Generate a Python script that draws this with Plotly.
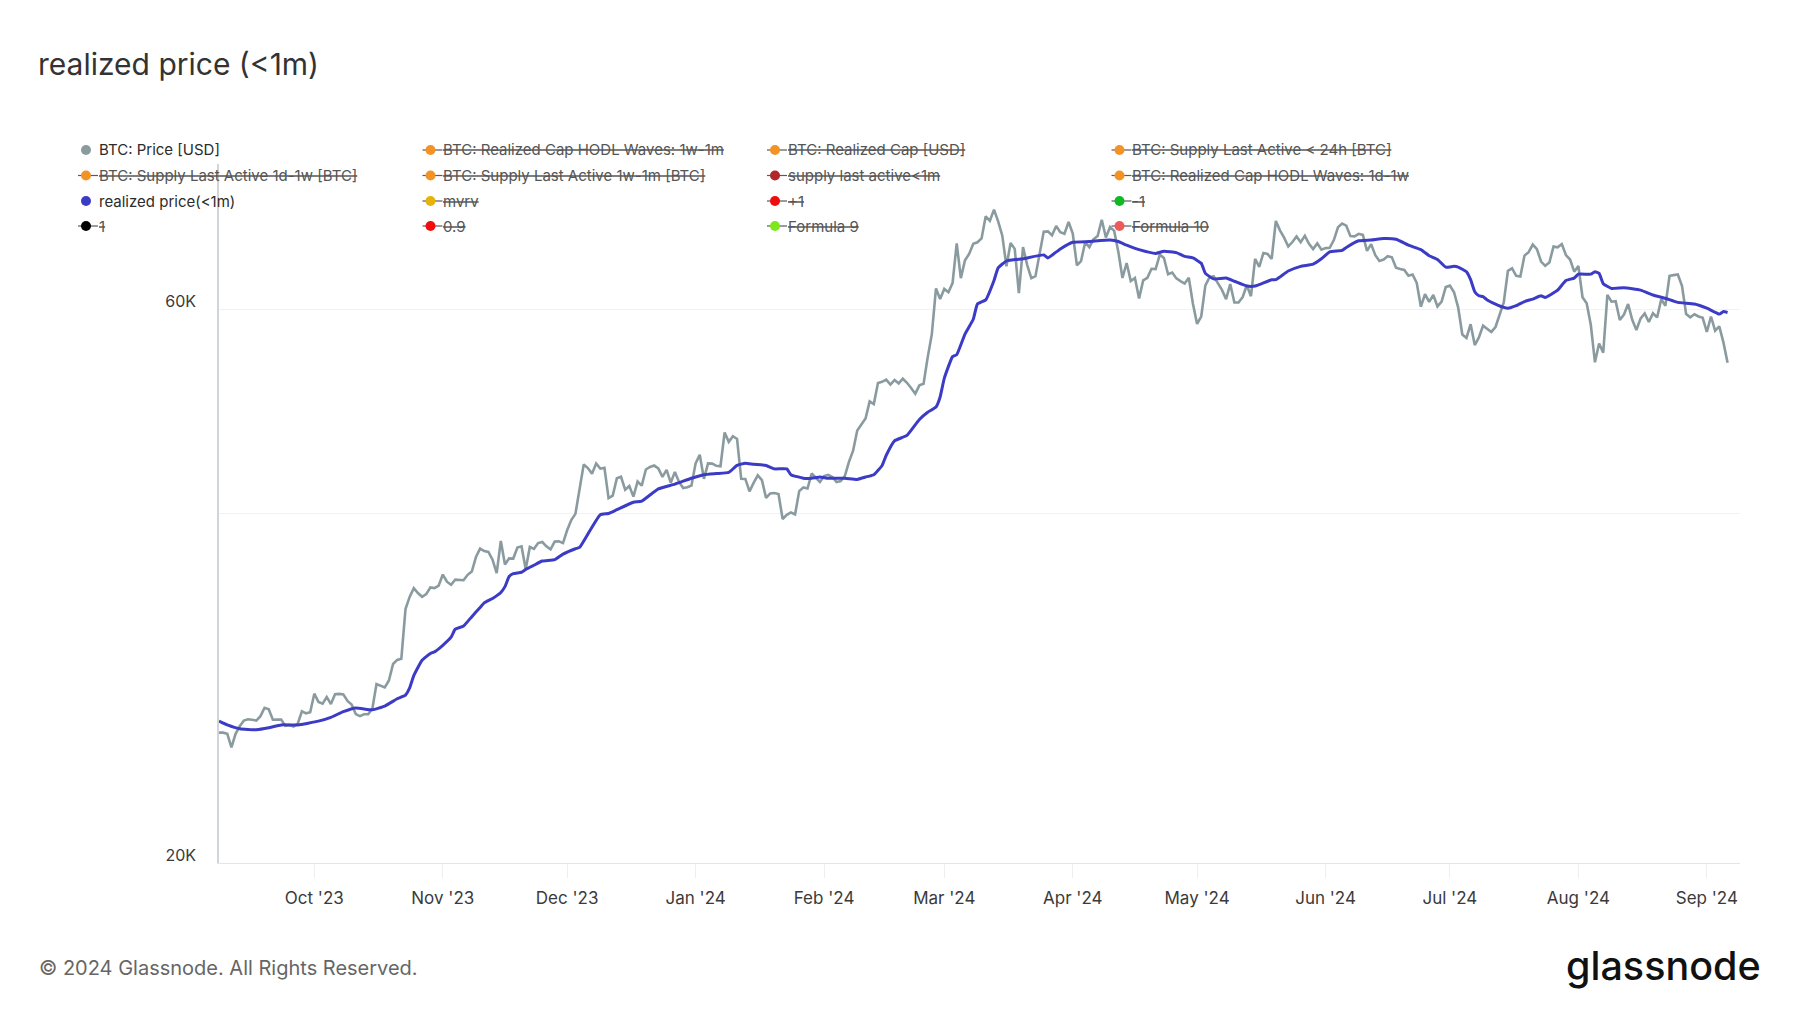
import math
import pandas as pd
import plotly.graph_objects as go

# ---------------- data ----------------
PRICE_START = "2023-09-08"
price_usd = [
    # Sep 2023 (8-30)
    25900, 25900, 25840, 25160, 25840, 26230, 26530, 26600, 26570, 26530, 26760, 27210,
    27130, 26570, 26580, 26580, 26250, 26300, 26220, 26370, 27020, 26910, 26970,
    # Oct 2023
    27980, 27530, 27430, 27800, 27410, 27950, 27970, 27940, 27580, 27390, 26870, 26760,
    26860, 26870, 27160, 28520, 28420, 28330, 28720, 29680, 29920, 29990, 33090, 33900,
    34500, 34160, 33910, 34090, 34540, 34500, 34670,
    # Nov 2023
    35440, 34940, 34730, 35080, 35050, 35040, 35420, 35650, 36690, 37310, 37130, 37060,
    36500, 35540, 37880, 36150, 36590, 36580, 37390, 37480, 35810, 37430, 37290, 37720,
    37800, 37480, 37250, 37830, 37850, 37720,
    # Dec 2023
    38690, 39480, 39970, 41980, 44080, 43770, 43290, 44170, 43720, 43790, 41240, 41450,
    42890, 43020, 41930, 42240, 41360, 42620, 42270, 43650, 43870, 43990, 43740, 43020,
    43610, 42520, 43440, 42580, 42070, 42140, 42280,
    # Jan 2024
    44180, 44940, 42850, 44180, 44160, 43970, 43930, 46970, 46110, 46630, 46370, 42850,
    42840, 41800, 42510, 43150, 42740, 41260, 41620, 41660, 41580, 39570, 39890, 40080,
    39930, 41820, 42120, 42030, 43300, 42940, 42580,
    # Feb 2024
    43080, 43190, 43000, 42580, 42660, 43080, 44320, 45300, 47150, 47770, 48290, 49960,
    49700, 51810, 51940, 52160, 51660, 52120, 51780, 52260, 51840, 51300, 50730, 51570,
    51730, 54520, 57090, 62500, 61200,
    # Mar 2024
    62440, 62030, 63170, 68330, 63800, 66110, 66930, 68300, 68500, 69020, 72120, 71480,
    73080, 71400, 69400, 65300, 68390, 67610, 61930, 67840, 65500, 63800, 64050, 67210,
    69960, 69990, 69450, 70740, 69890, 69660, 71330,
    # Apr 2024
    69700, 65450, 65980, 68510, 67840, 68900, 69360, 71630, 69140, 70590, 70060, 67200,
    63820, 65740, 63420, 63810, 61280, 63510, 63840, 64990, 64940, 66840, 66410, 64280,
    64500, 63760, 63420, 63110, 63840, 60640,
    # May 2024
    58250, 59120, 62890, 63890, 64030, 63160, 62330, 61190, 63050, 60790, 60790, 61450,
    62900, 61550, 66270, 65230, 67050, 66940, 66280, 71450, 70140, 69120, 67930, 68530,
    69290, 68510, 69390, 68300, 67590, 68350, 67490,
    # Jun 2024
    67710, 67750, 68800, 70560, 71080, 70790, 69340, 69300, 69650, 69510, 67330, 68240,
    66760, 66010, 66190, 66640, 66490, 65140, 64960, 64830, 64100, 64250, 63180, 60280,
    61800, 60860, 61700, 60320, 60890, 62670,
    # Jul 2024
    62850, 62030, 60170, 57040, 56660, 58230, 55860, 56710, 58050, 57720, 57340, 57900,
    59230, 60800, 64720, 65040, 64090, 63990, 66710, 67160, 68190, 67580, 65930, 65370,
    65800, 67910, 67810, 68260, 66780, 66190, 64620,
    # Aug 2024
    65360, 61420, 60700, 58160, 53990, 56030, 55030, 61710, 60880, 60950, 58710, 59350,
    60610, 58740, 57560, 58870, 59480, 58480, 59500, 59010, 61180, 60380, 64090, 64180,
    64260, 62830, 59420, 59030, 59380, 59120, 58970,
    # Sep 2024 (1-6)
    57330, 59120, 57480, 57970, 56160, 53950,
]

realized_dates = [
    "2023-09-08", "2023-09-10", "2023-09-13", "2023-09-17", "2023-09-20", "2023-09-23",
    "2023-09-27", "2023-10-02", "2023-10-05", "2023-10-08", "2023-10-11", "2023-10-15",
    "2023-10-18", "2023-10-21", "2023-10-23", "2023-10-24", "2023-10-25", "2023-10-27",
    "2023-10-29", "2023-10-30", "2023-11-01", "2023-11-03", "2023-11-04", "2023-11-06",
    "2023-11-08", "2023-11-10", "2023-11-11", "2023-11-13", "2023-11-15", "2023-11-16",
    "2023-11-17", "2023-11-18", "2023-11-20", "2023-11-21", "2023-11-23", "2023-11-25",
    "2023-11-28", "2023-11-30", "2023-12-03", "2023-12-04", "2023-12-06", "2023-12-09",
    "2023-12-11", "2023-12-13", "2023-12-17", "2023-12-19", "2023-12-23", "2023-12-27",
    "2023-12-31", "2024-01-03", "2024-01-06", "2024-01-09", "2024-01-11", "2024-01-13",
    "2024-01-15", "2024-01-18", "2024-01-20", "2024-01-23", "2024-01-24", "2024-01-27",
    "2024-01-29", "2024-01-31", "2024-02-02", "2024-02-06", "2024-02-09", "2024-02-11",
    "2024-02-13", "2024-02-15", "2024-02-16", "2024-02-18", "2024-02-21", "2024-02-24",
    "2024-02-26", "2024-02-28", "2024-02-29", "2024-03-01", "2024-03-03", "2024-03-04",
    "2024-03-06", "2024-03-08", "2024-03-09", "2024-03-11", "2024-03-13", "2024-03-14",
    "2024-03-16", "2024-03-20", "2024-03-25", "2024-03-26", "2024-03-29", "2024-04-01",
    "2024-04-05", "2024-04-10", "2024-04-12", "2024-04-14", "2024-04-17", "2024-04-21",
    "2024-04-23", "2024-04-26", "2024-04-28", "2024-04-30", "2024-05-02", "2024-05-03",
    "2024-05-05", "2024-05-08", "2024-05-10", "2024-05-13", "2024-05-15", "2024-05-19",
    "2024-05-20", "2024-05-23", "2024-05-26", "2024-05-29", "2024-05-31", "2024-06-02",
    "2024-06-05", "2024-06-06", "2024-06-09", "2024-06-12", "2024-06-15", "2024-06-18",
    "2024-06-21", "2024-06-24", "2024-06-26", "2024-06-28", "2024-06-30", "2024-07-02",
    "2024-07-03", "2024-07-05", "2024-07-06", "2024-07-07", "2024-07-08", "2024-07-09",
    "2024-07-10", "2024-07-12", "2024-07-14", "2024-07-15", "2024-07-17", "2024-07-19",
    "2024-07-21", "2024-07-23", "2024-07-24", "2024-07-27", "2024-07-29", "2024-07-31",
    "2024-08-01", "2024-08-04", "2024-08-05", "2024-08-06", "2024-08-07", "2024-08-09",
    "2024-08-12", "2024-08-16", "2024-08-19", "2024-08-22", "2024-08-25", "2024-08-29",
    "2024-09-01", "2024-09-04", "2024-09-05", "2024-09-06",
]
realized_price = [
    26500, 26300, 26100, 26050, 26150, 26300,
    26300, 26500, 26700, 27000, 27200, 27100,
    27300, 27700, 27900, 28300, 29000, 29900,
    30300, 30400, 30800, 31300, 31800, 32000,
    32600, 33200, 33500, 33800, 34200, 34600,
    35300, 35500, 35600, 35800, 36100, 36400,
    36500, 36900, 37300, 37400, 38400, 39900,
    40000, 40300, 40900, 41000, 42000, 42400,
    42900, 43200, 43300, 43400, 44000, 44200,
    44100, 44000, 43700, 43700, 43200, 42900,
    42900, 43000, 42900, 42900, 42800, 43000,
    43200, 44000, 44900, 46200, 46700, 48200,
    48900, 49400, 50400, 52300, 54600, 54800,
    57100, 58800, 60600, 61100, 63500, 65100,
    66000, 66300, 66800, 66400, 67600, 68500,
    68600, 68800, 68600, 68100, 67500, 67000,
    67300, 67100, 66600, 66400, 65700, 64400,
    63700, 63800, 63400, 62800, 62800, 63600,
    63600, 64700, 65300, 65600, 66300, 67200,
    67400, 67800, 68700, 68800, 69000, 68900,
    68100, 67500, 66700, 66200, 65200, 65300,
    65200, 64600, 63600, 62100, 61600, 61500,
    61100, 60600, 60200, 60100, 60400, 60900,
    61200, 61600, 61400, 62300, 63500, 63800,
    64300, 64300, 64600, 64400, 63100, 62500,
    62600, 62300, 61700, 61300, 60800, 60600,
    60100, 59400, 59700, 59600,
]

x_range = ["2023-09-08", "2024-09-09"]
month_ticks = ["2023-10-01", "2023-11-01", "2023-12-01", "2024-01-01", "2024-02-01",
               "2024-03-01", "2024-04-01", "2024-05-01", "2024-06-01", "2024-07-01",
               "2024-08-01", "2024-09-01"]
month_labels = ["Oct '23", "Nov '23", "Dec '23", "Jan '24", "Feb '24", "Mar '24",
                "Apr '24", "May '24", "Jun '24", "Jul '24", "Aug '24", "Sep '24"]
y_tickvals = [20000, 40000, 60000, 80000]
y_ticktext = ["20K", "", "60K", ""]

legend_names = [
    "BTC: Price [USD]", "BTC: Realized Cap HODL Waves: 1w-1m", "BTC: Realized Cap [USD]",
    "BTC: Supply Last Active &lt; 24h [BTC]",
    "BTC: Supply Last Active 1d-1w [BTC]", "BTC: Supply Last Active 1w-1m [BTC]",
    "supply last active&lt;1m", "BTC: Realized Cap HODL Waves: 1d-1w",
    "realized price(&lt;1m)", "mvrv", "+1", "-1",
    "1", "0.9", "Formula 9", "Formula 10",
]
legend_colors = [
    "#8a9ba0", "#f39325", "#f39325", "#f39325",
    "#f39325", "#f39325", "#b3262a", "#f39325",
    "#3b3bc6", "#e6b30c", "#f10d0d", "#10b826",
    "#000000", "#f10d0d", "#7ee81a", "#ee5a5a",
]
legend_shown = [
    True, False, False, False,
    False, False, False, False,
    True, False, False, False,
    False, False, False, False,
]

PRICE_COLOR = "#8a9ba0"
REAL_COLOR = "#3b3bc6"
FONT = "Inter, Roboto, 'Noto Sans', sans-serif"

# ---------------- geometry ----------------
W, H = 1800, 1013
ML, MR, MT, MB = 219, 60, 164, 150
PW = W - ML - MR
PH = H - MT - MB


def px_x(px):
    return (px - ML) / PW


def px_y(py):
    return (H - MB - py) / PH


price_dates = pd.date_range(PRICE_START, periods=len(price_usd), freq="D")

fig = go.Figure()
fig.add_trace(go.Scatter(
    x=price_dates, y=price_usd, mode="lines", name="BTC: Price [USD]",
    line=dict(color=PRICE_COLOR, width=2.6), showlegend=False, hoverinfo="skip"))
fig.add_trace(go.Scatter(
    x=pd.to_datetime(realized_dates), y=realized_price, mode="lines",
    name="realized price(<1m)", line=dict(color=REAL_COLOR, width=3, shape="spline", smoothing=0.4),
    showlegend=False, hoverinfo="skip"))

# ---------------- manual legend (4 x 4 grid) ----------------
col_x = [86, 430.5, 775, 1119.5]
row_y = [150, 175.5, 201, 226]
shapes = []
annotations = []
for i, (name, col, shown) in enumerate(zip(legend_names, legend_colors, legend_shown)):
    cx = col_x[i % 4]
    cy = row_y[i // 4]
    if not shown:
        shapes.append(dict(type="line", xref="paper", yref="paper",
                           x0=px_x(cx - 8), x1=px_x(cx + 12), y0=px_y(cy), y1=px_y(cy),
                           line=dict(color="#5a5a5a", width=1.2), layer="above"))
    shapes.append(dict(type="circle", xref="paper", yref="paper",
                       xsizemode="pixel", ysizemode="pixel",
                       xanchor=px_x(cx), yanchor=px_y(cy),
                       x0=-5, x1=5, y0=-5, y1=5,
                       fillcolor=col, line=dict(width=0), layer="above"))
    txt = name if shown else '<span style="text-decoration:line-through">' + name + "</span>"
    annotations.append(dict(
        x=px_x(cx + 10.5), y=px_y(cy), xref="paper", yref="paper",
        xanchor="left", yanchor="middle", showarrow=False, text=txt,
        font=dict(family=FONT, size=15, color="#2b2b2b" if shown else "#555555")))

annotations.append(dict(
    x=px_x(37), y=px_y(968), xref="paper", yref="paper", xanchor="left", yanchor="middle",
    showarrow=False, text="© 2024 Glassnode. All Rights Reserved.",
    font=dict(family=FONT, size=20, color="#666666")))
annotations.append(dict(
    x=px_x(1763), y=px_y(966), xref="paper", yref="paper", xanchor="right", yanchor="middle",
    showarrow=False, text="glassnode",
    font=dict(family=FONT, size=39.5, color="#111111", weight=500)))

fig.update_layout(
    width=W, height=H,
    margin=dict(l=ML, r=MR, t=MT, b=MB, pad=0),
    paper_bgcolor="white", plot_bgcolor="white",
    font=dict(family=FONT, color="#333333"),
    title=dict(text="realized price (&lt;1m)", x=38 / W, xanchor="left", xref="container",
               y=1 - 64 / H, yanchor="middle", yref="container",
               font=dict(family=FONT, size=30, color="#333333")),
    showlegend=False,
    shapes=shapes,
    annotations=annotations,
    xaxis=dict(type="date", range=x_range, tickvals=month_ticks, ticktext=month_labels,
               ticks="outside", ticklen=14, tickwidth=1, tickcolor="#eceff1",
               showgrid=False, showline=True, linecolor="#e3e6e8", linewidth=1,
               zeroline=False, ticklabelstandoff=6,
               tickfont=dict(family=FONT, size=17, color="#3a3a3a")),
    yaxis=dict(type="log", range=[math.log10(20000), math.log10(80000)],
               tickvals=y_tickvals, ticktext=y_ticktext, ticks="",
               showgrid=True, gridcolor="#f1f2f3", gridwidth=1,
               showline=True, linecolor="#cfd6d9", linewidth=1.5, zeroline=False,
               ticklabelstandoff=18, ticklabelshift=-8,
               tickfont=dict(family=FONT, size=16, color="#3a3a3a")),
)

fig.write_html("out.html", config={"displayModeBar": False},
               post_script="document.body.style.margin='0';document.body.style.overflow='hidden';")
